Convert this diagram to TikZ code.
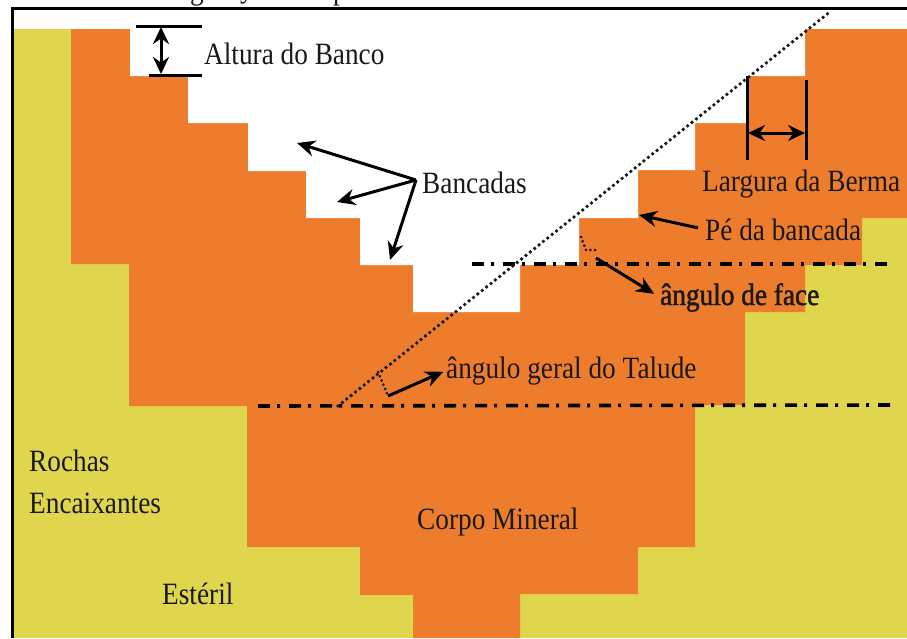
\documentclass[tikz,border=0pt]{standalone}
\usepackage{fontspec}
\setmainfont[FakeStretch=0.88]{Liberation Serif}
\newfontfamily\heavyfont[FakeStretch=0.88,FakeBold=1.5]{Liberation Serif}
\usepackage{xcolor}
\usepackage{tikz}
\usetikzlibrary{
  arrows.meta
}

\definecolor{rockyellow}{RGB}{224,214,78}
\definecolor{oreorange}{RGB}{237,125,45}

\tikzset{
  label text/.style={font=\fontsize{31}{36}\selectfont, inner sep=0pt, anchor=base west, text=black!90},
  pointer/.style={-{Stealth[length=18pt,width=16pt]}, line width=3pt},
  double pointer/.style={{Stealth[length=17pt,width=16pt]}-{Stealth[length=17pt,width=16pt]}, line width=3pt},
  bar/.style={line width=3pt},
  level line/.style={line width=3.6pt, dash pattern=on 12pt off 7pt on 3pt off 9pt},
  slope line/.style={line width=3.8pt, line cap=round, black!90, dash pattern=on 0pt off 5.6pt},
  angle mark/.style={line width=3pt, line cap=round, black!90, dash pattern=on 0pt off 4.6pt}
}

\begin{document}
\begin{tikzpicture}[x=1pt,y=-1pt]
  \useasboundingbox (0,0) rectangle (907,638);

  % Waste rock, the ore body and the open pit
  \fill [rockyellow] (13,29) rectangle (907,638);
  \fill [oreorange] (71,29) -- (907,29) -- (907,218)
    -- (862,218) -- (862,265) -- (805,265) -- (805,312) -- (745,312)
    -- (745,405) -- (695,405) -- (695,547) -- (638,547) -- (638,594)
    -- (520,594) -- (520,638) -- (413,638) -- (413,595) -- (360,595)
    -- (360,547) -- (247,547) -- (247,406) -- (129,406) -- (129,264)
    -- (71,264) -- cycle;
  \fill [white] (130,29) -- (130,76) -- (188,76) -- (188,123) -- (248,123)
    -- (248,171) -- (306,171) -- (306,218) -- (360,218) -- (360,265)
    -- (413,265) -- (413,312) -- (520,312) -- (520,265) -- (579,265)
    -- (579,218) -- (638,218) -- (638,170) -- (695,170) -- (695,123)
    -- (747,123) -- (747,76) -- (805,76) -- (805,29) -- cycle;

  % Frame and the clipped caption above it
  \draw [line width=3pt] (907,8) -- (12,8) -- (12,638);
  \node [label text] (caption g) at (190,-1) {g};
  \node [label text] (caption y) at (240,-3) {y};
  \node [label text] (caption p) at (333,-1) {p};

  % Coordinates for the free ends of the connectors
  \coordinate (benchtop) at (136,26);
  \coordinate (benchtopend) at (202,26);
  \coordinate (benchlow) at (149,75);
  \coordinate (benchlowend) at (202,75);
  \coordinate (heightup) at (161,27);
  \coordinate (heightdown) at (161,74);
  \coordinate (bermleft) at (747,76);
  \coordinate (bermleftend) at (747,160);
  \coordinate (bermright) at (806,80);
  \coordinate (bermrightend) at (806,160);
  \coordinate (bermstart) at (748,133);
  \coordinate (bermstop) at (805,133);
  \coordinate (upperleft) at (472,264);
  \coordinate (upperright) at (891,264);
  \coordinate (lowerleft) at (258,406);
  \coordinate (lowerright) at (892,405);
  \coordinate (toe) at (338,406);
  \coordinate (crest) at (831,11);
  \coordinate (slopemark) at (378,372);
  \coordinate (slopecorner) at (388,396);
  \coordinate (facemark) at (581,237);
  \coordinate (facebend) at (586,250);
  \coordinate (facecorner) at (597,250);
  \coordinate (facestart) at (596,258);
  \coordinate (benchhub) at (416,180);
  \coordinate (bench1) at (297,143);
  \coordinate (bench2) at (337,202);
  \coordinate (bench3) at (390,260);
  \coordinate (toepoint) at (639,215);

  % Labels
  \node [label text] (height) at (204,64) {Altura do Banco};
  \node [label text] (benches) at (422,193) {Bancadas};
  \node [label text] (berm) at (702,191) {Largura da Berma};
  \node [label text] (bench toe) at (705,240) {Pé da bancada};
  \node [label text, font=\fontsize{31}{36}\heavyfont] (face) at (660,305) {ângulo de face};
  \node [label text] (slope) at (446,378) {ângulo geral do Talude};
  \node [label text] (ore) at (417,529) {Corpo Mineral};
  \node [label text] (rocks) at (29,471) {Rochas};
  \node [label text] (encasing) at (29,513) {Encaixantes};
  \node [label text] (waste) at (162,604) {Estéril};

  % Bench height
  \draw [bar] (benchtop) -- (benchtopend);
  \draw [bar] (benchlow) -- (benchlowend);
  \draw [double pointer] (heightup) -- (heightdown);

  % Berm width
  \draw [bar] (bermleft) -- (bermleftend);
  \draw [bar] (bermright) -- (bermrightend);
  \draw [double pointer] (bermstart) -- (bermstop);

  % Arrows from the labels
  \draw [pointer] (benchhub) -- (bench1);
  \draw [pointer] (benchhub) -- (bench2);
  \draw [pointer] (benchhub) -- (bench3);
  \draw [pointer, shorten <=7pt] (bench toe.west) -- (toepoint);
  \draw [pointer, shorten >=7pt] (facestart) -- (face.west);
  \draw [pointer, shorten >=3pt] (slopecorner) -- (slope.west);

  % Reference levels and overall slope
  \draw [level line] (upperleft) -- (upperright);
  \draw [level line] (lowerleft) -- (lowerright);
  \draw [slope line] (toe) -- (crest);

  % Angle marks
  \draw [angle mark] (slopemark) -- (slopecorner);
  \draw [angle mark] (facemark) -- (facebend) -- (facecorner);
\end{tikzpicture}
\end{document}
